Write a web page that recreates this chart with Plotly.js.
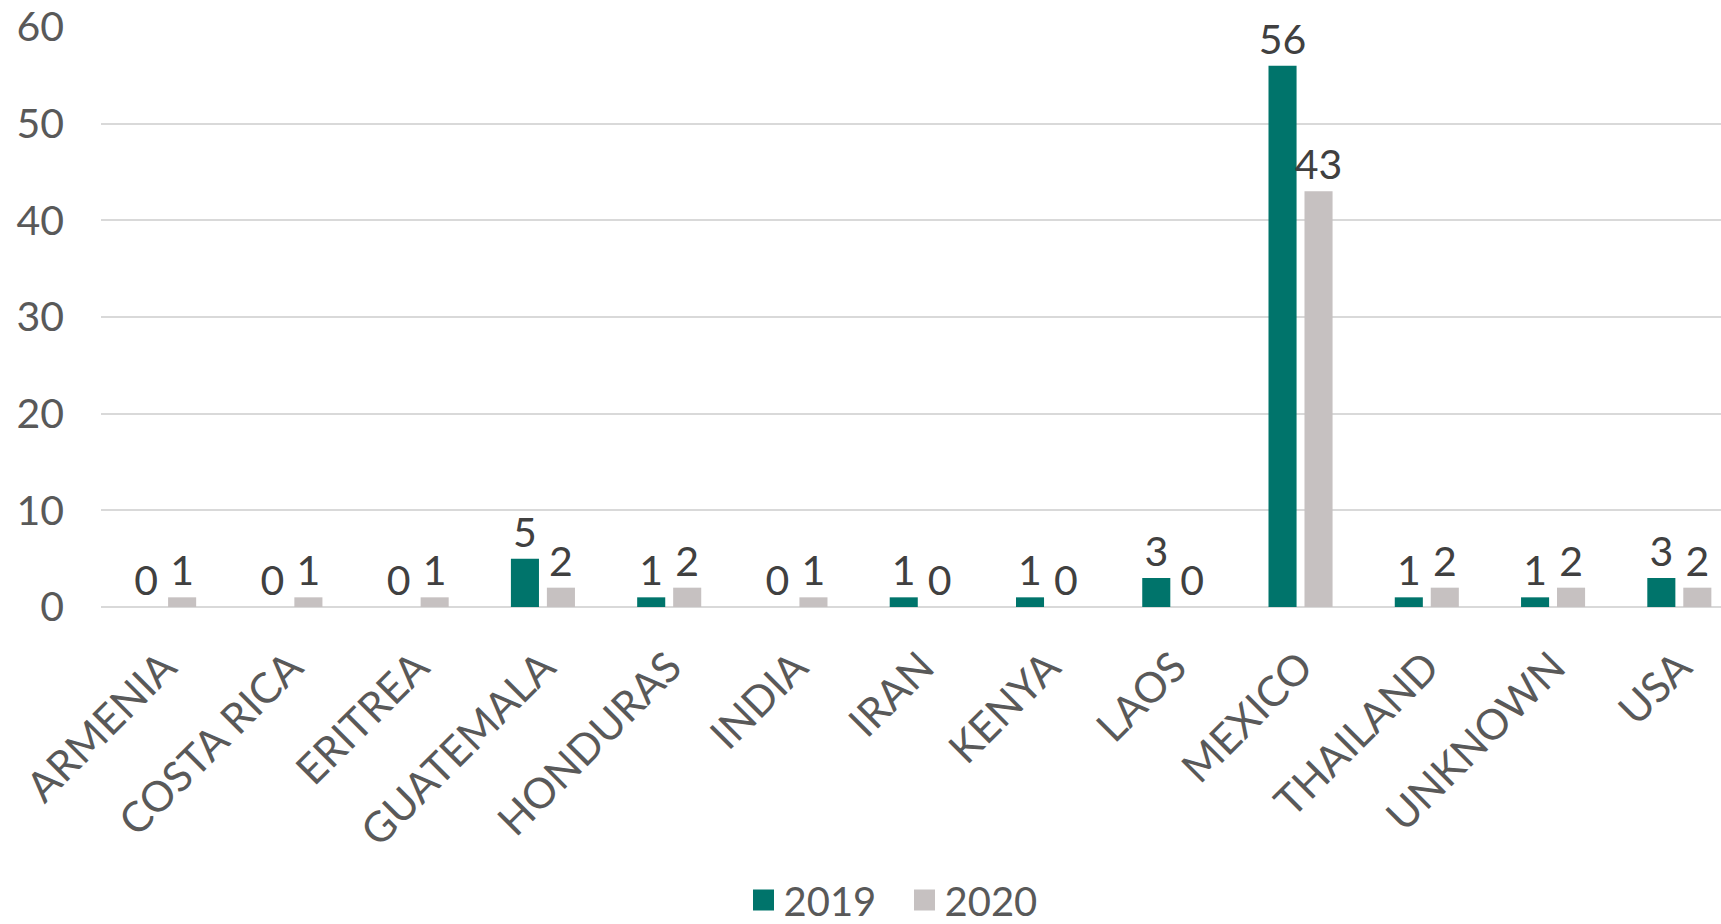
<!DOCTYPE html>
<html><head><meta charset="utf-8">
<script src="https://cdn.plot.ly/plotly-3.0.1.min.js"></script>
<style>html,body{margin:0;padding:0;background:#fff}#chart{width:1721px;height:924px}</style>
</head><body><div id="chart"></div>
<script>
const categories = ["ARMENIA","COSTA RICA","ERITREA","GUATEMALA","HONDURAS","INDIA","IRAN","KENYA","LAOS","MEXICO","THAILAND","UNKNOWN","USA"];
const values2019 = [0,0,0,5,1,0,1,1,3,56,1,1,3];
const values2020 = [1,1,1,2,2,1,0,0,0,43,2,2,2];
const seriesNames = ["2019","2020"];
const seriesColors = ["#00746B","#C6C1C1"];
const yTicks = [0,10,20,30,40,50,60];

const fontFamily = "Lato, 'Open Sans', sans-serif";
const mk = (name, vals, color) => ({
  type: 'bar', name: name, x: categories, y: vals,
  marker: {color: color}, showlegend: false,
  text: vals.map(String), textposition: 'outside', cliponaxis: false, constraintext: 'none',
  textfont: {family: fontFamily, size: 41, color: '#404040'},
  hoverinfo: 'x+y'
});
const legendEntry = (name, color) => ({
  type: 'scatter', mode: 'markers', name: name, x: [null], y: [null],
  marker: {symbol: 'square', size: 16, color: color, line: {color: color, width: 5}},
  showlegend: true, hoverinfo: 'skip'
});
const data = [
  mk(seriesNames[0], values2019, seriesColors[0]),
  mk(seriesNames[1], values2020, seriesColors[1]),
  legendEntry(seriesNames[0], seriesColors[0]),
  legendEntry(seriesNames[1], seriesColors[1])
];
const layout = {
  width: 1721, height: 924,
  margin: {l: 101, r: 0, t: 27, b: 317, autoexpand: false},
  paper_bgcolor: '#fff', plot_bgcolor: '#fff',
  barmode: 'group', bargap: 0.43, bargroupgap: 0.22,
  font: {family: fontFamily, color: '#595959', size: 40},
  xaxis: {type: 'category', range: [-0.5, 12.33], tickangle: -45, showgrid: false, zeroline: false,
          showline: false, tickfont: {size: 42, color: '#595959'}, ticklabelstandoff: 26, automargin: false},
  yaxis: {range: [0, 60], tickvals: yTicks, showgrid: true, gridcolor: '#D9D9D9', gridwidth: 2,
          zeroline: true, zerolinecolor: '#D9D9D9', zerolinewidth: 2, showline: false, automargin: false,
          tickfont: {size: 41, color: '#595959'}, ticklabelstandoff: 36},
  showlegend: true,
  legend: {orientation: 'h', x: 0.496, xanchor: 'center', y: -0.505, yanchor: 'middle',
           font: {size: 40, color: '#595959'}, itemsizing: 'trace', entrywidth: 116, entrywidthmode: 'pixels'}
};
Plotly.newPlot('chart', data, layout, {displayModeBar: false, staticPlot: true});
</script></body></html>
